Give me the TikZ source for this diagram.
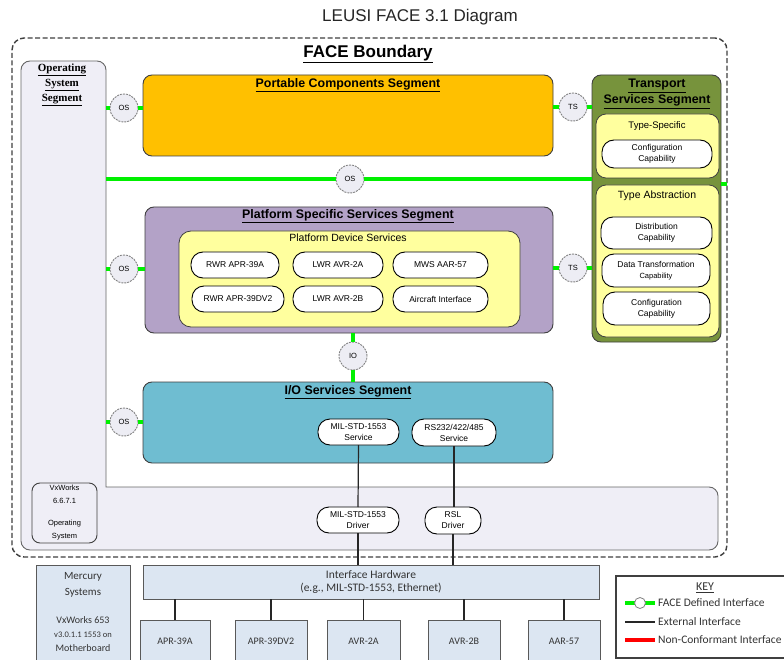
\documentclass[tikz,border=0pt]{standalone}
\usepackage{fontspec}
\setmainfont{Liberation Sans}
\newfontfamily\calfont{Carlito}
\newfontfamily\serfont{Liberation Serif}
\usetikzlibrary{calc}

\definecolor{osfill}{HTML}{EFEEF6}
\definecolor{pcsfill}{HTML}{FFC000}
\definecolor{tssfill}{HTML}{77933C}
\definecolor{ylw}{HTML}{FFFF9E}
\definecolor{pssfill}{HTML}{B3A2C7}
\definecolor{iosfill}{HTML}{6FBDD1}
\definecolor{hwfill}{HTML}{DCE6F2}
\definecolor{ifgreen}{HTML}{00F000}
\definecolor{edge}{HTML}{404040}
\definecolor{circfill}{HTML}{EDEDF4}
\definecolor{keytext}{HTML}{333333}

\newcommand\fsz[2]{\fontsize{#1}{#2}\selectfont}

\tikzset{
  box/.style={anchor=north west, inner sep=0pt, outer sep=0pt},
  seg/.style={box, draw=edge, line width=0.9pt, rounded corners=9pt},
  subseg/.style={box, draw=edge, line width=0.8pt, fill=ylw, rounded corners=10pt},
  pill/.style={box, draw=black, line width=0.9pt, fill=white, rounded corners=12pt,
    align=center, font=\fsz{8.5}{11}},
  ifc/.style={circle, draw=gray, dash pattern=on 2pt off 1pt, line width=0.9pt,
    fill=circfill, minimum size=28pt, inner sep=0pt, font=\fsz{7.5}{8}},
  iface/.style={draw=ifgreen, line width=4pt},
  ext/.style={draw=black!85, line width=1.2pt},
  hwbox/.style={box, draw=gray!70!black, line width=1pt, fill=hwfill},
  seglabel/.style={font=\bfseries\fsz{12.4}{14}},
  keyitem/.style={anchor=west, inner sep=0pt, text=keytext, font=\calfont\fsz{11.5}{13}},
}

\begin{document}
\begin{tikzpicture}[x=1pt, y=-1pt]
\useasboundingbox (0,0) rectangle (784,660);
\clip (0,0) rectangle (784,660);
\fill[white] (0,0) rectangle (784,660);

% title
\node[font=\fsz{17}{20}, text=black!85] (title) at (420,17) {LEUSI FACE 3.1 Diagram};

% FACE boundary
\node[box, draw=edge, line width=1.4pt, dash pattern=on 5pt off 2.5pt, rounded corners=12pt,
  minimum width=715pt, minimum height=519pt] (face) at (12,38) {};
\node[font=\bfseries\fsz{17}{20}] (facelbl) at (368,54) {\underline{FACE Boundary}};

% operating system segment (L-shaped)
\draw[fill=osfill, draw=gray!80!black, line width=0.9pt]
  (106,300) [rounded corners=9pt] -- (106,61) -- (21,61) -- (21,550) -- (718,550)
  -- (718,487) -- (400,487) [sharp corners] -- (106,487) -- cycle;
\coordinate (osedge) at (106,300);
\node[align=center, font=\serfont\bfseries\fsz{11}{15}] (oslbl) at (62,85)
  {\underline{Operating}\\\underline{System}\\\underline{Segment}};
\node[box, draw=edge, line width=0.9pt, rounded corners=8pt, minimum width=65pt,
  minimum height=60pt, align=center, font=\fsz{7.5}{13}] (vx) at (32,483)
  {VxWorks\\6.6.7.1\\[9pt]Operating\\System};

% portable components segment
\node[seg, fill=pcsfill, minimum width=410pt, minimum height=81pt] (pcs) at (143,75) {};
\node[seglabel] (pcslbl) at (348,85) {\underline{Portable Components Segment}};

% transport services segment
\node[seg, fill=tssfill, minimum width=129pt, minimum height=267pt] (tss) at (592,75) {};
\node[align=center, font=\bfseries\fsz{12.4}{16}] (tsslbl) at (657,94)
  {\underline{Transport}\\\underline{Services Segment}};
\node[subseg, minimum width=123pt, minimum height=64pt] (tsp) at (596,114) {};
\node[font=\fsz{9.5}{11}] (tsplbl) at (657,126) {Type-Specific};
\node[pill, minimum width=110pt, minimum height=28pt] (cfg1) at (602,140) {Configuration\\Capability};
\node[subseg, minimum width=123pt, minimum height=152pt] (tab) at (596,185) {};
\node[font=\fsz{10.5}{12}] (tablbl) at (657,196) {Type Abstraction};
\node[pill, minimum width=111pt, minimum height=32pt] (dist) at (601,217) {Distribution\\Capability};
\node[pill, minimum width=108pt, minimum height=33pt] (dtc) at (602,254)
  {Data Transformation\\{\fsz{7.5}{11}Capability}};
\node[pill, minimum width=107pt, minimum height=33pt] (cfg2) at (603,292) {Configuration\\Capability};

% platform specific services segment
\node[seg, fill=pssfill, minimum width=408pt, minimum height=126pt] (pss) at (145,207) {};
\node[seglabel] (psslbl) at (348,216) {\underline{Platform Specific Services Segment}};
\node[subseg, rounded corners=12pt, minimum width=341pt, minimum height=96pt] (pds) at (179,231) {};
\node[font=\fsz{10.5}{12}] (pdslbl) at (348,238) {Platform Device Services};
\node[pill, minimum width=88pt, minimum height=26pt] (rwr1) at (191,252) {RWR APR-39A};
\node[pill, minimum width=90pt, minimum height=26pt] (lwr1) at (293,252) {LWR AVR-2A};
\node[pill, minimum width=95pt, minimum height=26pt] (mws) at (393,252) {MWS AAR-57};
\node[pill, minimum width=92pt, minimum height=26pt] (rwr2) at (192,286) {RWR APR-39DV2};
\node[pill, minimum width=90pt, minimum height=26pt] (lwr2) at (293,286) {LWR AVR-2B};
\node[pill, minimum width=95pt, minimum height=26pt] (acif) at (393,286) {Aircraft Interface};

% I/O services segment
\node[seg, fill=iosfill, minimum width=410pt, minimum height=81pt] (ios) at (143,382) {};
\node[seglabel] (ioslbl) at (348,392) {\underline{I/O Services Segment}};
\node[pill, minimum width=81pt, minimum height=26pt] (mils) at (318,419) {MIL-STD-1553\\Service};
\node[pill, minimum width=84pt, minimum height=27pt] (rss) at (412,419) {RS232/422/485\\Service};

% drivers in the operating system segment
\node[pill, minimum width=82pt, minimum height=26pt] (mild) at (317,507) {MIL-STD-1553\\Driver};
\node[pill, minimum width=56pt, minimum height=27pt] (rsld) at (425,507) {RSL\\Driver};

% FACE defined interfaces
\node[ifc] (os1) at (124,108) {OS};
\draw[iface] (os1.west) -- (os1.west -| osedge);
\draw[iface] (os1.east) -- (os1.east -| pcs.west);
\node[ifc] (ts1) at (573,107) {TS};
\draw[iface] (ts1.west) -- (ts1.west -| pcs.east);
\draw[iface] (ts1.east) -- (ts1.east -| tss.west);

\node[ifc] (os2) at (350,179) {OS};
\draw[iface] (os2.west) -- (os2.west -| osedge);
\draw[iface] (os2.east) -- (os2.east -| tss.west);
\coordinate (tssout) at (721,184);
\draw[iface] (tssout) -- (tssout -| face.east);

\node[ifc] (os3) at (124,269) {OS};
\draw[iface] (os3.west) -- (os3.west -| osedge);
\draw[iface] (os3.east) -- (os3.east -| pss.west);
\node[ifc] (ts2) at (573,268) {TS};
\draw[iface] (ts2.west) -- (ts2.west -| pss.east);
\draw[iface] (ts2.east) -- (ts2.east -| tss.west);

\node[ifc] (io) at (353,356) {IO};
\draw[iface] (io.north) -- (io.north |- pss.south);
\draw[iface] (io.south) -- (io.south |- ios.north);

\node[ifc] (os4) at (124,422) {OS};
\draw[iface] (os4.west) -- (os4.west -| osedge);
\draw[iface] (os4.east) -- (os4.east -| ios.west);

% interface hardware and devices
\node[hwbox, minimum width=456pt, minimum height=34pt, align=center,
  font=\calfont\fsz{11.5}{12.5}, text=black!80] (hw) at (143,565)
  {Interface Hardware\\(e.g., MIL-STD-1553, Ethernet)};
\node[hwbox, minimum width=94pt, minimum height=110pt] (merc) at (36,565) {};
\node[align=center, font=\calfont\fsz{11}{16}, text=black!80] (merc1) at (83,585) {Mercury\\Systems};
\node[align=center, font=\calfont\fsz{10}{14}, text=black!80] (merc2) at (83,634)
  {VxWorks 653\\{\fsz{8.5}{13}v3.0.1.1 1553 on}\\Motherboard};

\node[hwbox, minimum width=70pt, minimum height=42pt, font=\calfont\fsz{10}{12}, text=black!80] (apr39) at (140,620) {APR-39A};
\node[hwbox, minimum width=72pt, minimum height=42pt, font=\calfont\fsz{10}{12}, text=black!80] (aprdv2) at (235,620) {APR-39DV2};
\node[hwbox, minimum width=73pt, minimum height=42pt, font=\calfont\fsz{10}{12}, text=black!80] (avr2a) at (327,620) {AVR-2A};
\node[hwbox, minimum width=72pt, minimum height=42pt, font=\calfont\fsz{10}{12}, text=black!80] (avr2b) at (428,620) {AVR-2B};
\node[hwbox, minimum width=72pt, minimum height=42pt, font=\calfont\fsz{10}{12}, text=black!80] (aar57) at (528,620) {AAR-57};

% external interfaces
\draw[ext] (mils.south) -- (mild.north);
\draw[ext] (mild.south) -- (mild.south |- hw.north);
\draw[ext] (rss.south) -- (rss.south |- rsld.north);
\draw[ext] (rsld.south) -- (rsld.south |- hw.north);
\foreach \dev in {apr39, aprdv2, avr2a, avr2b, aar57}
  \draw[ext] (\dev.north) -- (\dev.north |- hw.south);

% key (open on the right, where it runs off the page)
\node[box, fill=white, minimum width=200pt, minimum height=82pt] (key) at (616,576) {};
\draw[draw=edge, line width=1.2pt] (key.north east) -- (key.north west) -- (key.south west) -- (key.south east);
\node[font=\calfont\fsz{12}{14}, text=keytext] (keylbl) at (705,588) {\underline{KEY}};
\coordinate (k1a) at (625,603);
\coordinate (k1b) at (655,603);
\draw[iface, line width=3.5pt] (k1a) -- (k1b);
\node[circle, draw=gray, fill=white, line width=0.8pt, minimum size=11pt, inner sep=0pt] (k1c) at ($(k1a)!0.5!(k1b)$) {};
\node[keyitem] (k1t) at (658,603) {FACE Defined Interface};
\coordinate (k2a) at (625,622);
\coordinate (k2b) at (655,622);
\draw[ext, line width=1.4pt] (k2a) -- (k2b);
\node[keyitem] (k2t) at (658,622) {External Interface};
\coordinate (k3a) at (625,640);
\coordinate (k3b) at (655,640);
\draw[draw=red, line width=4pt] (k3a) -- (k3b);
\node[keyitem] (k3t) at (658,640) {Non-Conformant Interface};
\end{tikzpicture}
\end{document}
